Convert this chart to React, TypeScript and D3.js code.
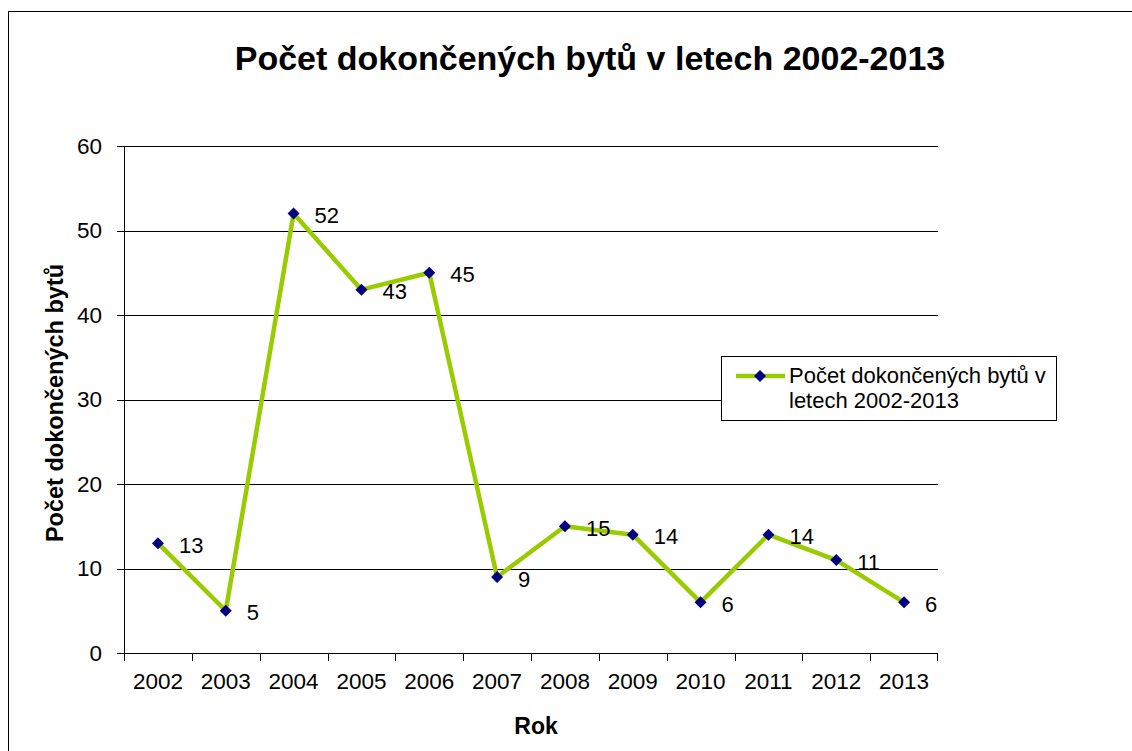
import React from "react";
import * as d3 from "d3";

// data
const years = ["2002", "2003", "2004", "2005", "2006", "2007", "2008", "2009", "2010", "2011", "2012", "2013"];
const completed = [13, 5, 52, 43, 45, 9, 15, 14, 6, 14, 11, 6];
const yTicks = [0, 10, 20, 30, 40, 50, 60];

const title = "Počet dokončených bytů v letech 2002-2013";
const seriesName = ["Počet dokončených bytů v", "letech 2002-2013"];
const font = "'Liberation Sans', Arial, sans-serif";

export default function App() {
    const width = 1132, height = 751;
    const margin = { top: 146, right: 194, bottom: 98, left: 124 };

    const x = d3.scaleBand<string>().domain(years).range([margin.left, width - margin.right]);
    const y = d3.scaleLinear().domain([0, 60]).range([height - margin.bottom, margin.top]);

    const line = d3.line<number>()
        .x((d, i) => (x(years[i]) as number) + x.bandwidth() / 2)
        .y(d => y(d));

    const diamond = (cx: number, cy: number, r: number) =>
        `M${cx},${cy - r}L${cx + r},${cy}L${cx},${cy + r}L${cx - r},${cy}Z`;

    const x0 = margin.left, x1 = width - margin.right, yb = y(0);

    return (
        <svg width={width} height={height} style={{ position: "absolute", left: 0, top: 0 }}>
            <rect x={0} y={0} width={width} height={height} fill="#fff" />
            <rect x={8.5} y={11.5} width={width + 20} height={height + 20} fill="none" stroke="#000" strokeWidth={1} />

            <text x={590} y={70} textAnchor="middle" fontFamily={font} fontWeight="bold" fontSize={34}>{title}</text>

            {/* gridlines */}
            {yTicks.filter(t => t > 0).map(t => (
                <line key={t} x1={x0} x2={x1} y1={Math.round(y(t)) + 0.5} y2={Math.round(y(t)) + 0.5} stroke="#000" strokeWidth={1} />
            ))}

            {/* y axis */}
            <line x1={x0 + 0.5} x2={x0 + 0.5} y1={y(60)} y2={yb} stroke="#000" />
            {yTicks.map(t => (
                <g key={t}>
                    <line x1={x0 - 7} x2={x0} y1={Math.round(y(t)) + 0.5} y2={Math.round(y(t)) + 0.5} stroke="#000" />
                    <text x={x0 - 22} y={y(t)} dy="0.35em" textAnchor="end" fontFamily={font} fontSize={22.5}>{t}</text>
                </g>
            ))}

            {/* x axis */}
            <line x1={x0} x2={x1} y1={Math.round(yb) + 0.5} y2={Math.round(yb) + 0.5} stroke="#000" />
            {years.map(yr => (
                <line key={"t" + yr} x1={Math.round(x(yr) as number) + 0.5} x2={Math.round(x(yr) as number) + 0.5} y1={yb} y2={yb + 8} stroke="#000" />
            ))}
            <line x1={x1 - 0.5} x2={x1 - 0.5} y1={yb} y2={yb + 8} stroke="#000" />
            {years.map(yr => (
                <text key={yr} x={(x(yr) as number) + x.bandwidth() / 2} y={yb + 36} textAnchor="middle" fontFamily={font} fontSize={22.5}>{yr}</text>
            ))}

            <text x={536} y={734} textAnchor="middle" fontFamily={font} fontWeight="bold" fontSize={23}>Rok</text>
            <text transform={`translate(63,403) rotate(-90)`} textAnchor="middle" fontFamily={font} fontWeight="bold" fontSize={23.5}>Počet dokončených bytů</text>

            {/* series */}
            <path d={line(completed) as string} fill="none" stroke="#99CC00" strokeWidth={4.5} strokeLinejoin="round" />
            {completed.map((v, i) => {
                const cx = (x(years[i]) as number) + x.bandwidth() / 2;
                return (
                    <g key={i}>
                        <path d={diamond(cx, y(v), 6)} fill="#000080" />
                        <text x={cx + 21} y={y(v) + 2} dy="0.35em" fontFamily={font} fontSize={22}>{v}</text>
                    </g>
                );
            })}

            {/* legend */}
            <rect x={721.5} y={356.5} width={335} height={64} fill="#fff" stroke="#000" />
            <line x1={736} x2={785} y1={376} y2={376} stroke="#99CC00" strokeWidth={4.5} />
            <path d={diamond(760, 376, 6)} fill="#000080" />
            {seriesName.map((s, i) => (
                <text key={i} x={789} y={375 + i * 25.5} dy="0.35em" fontFamily={font} fontSize={22}>{s}</text>
            ))}
        </svg>
    );
}
